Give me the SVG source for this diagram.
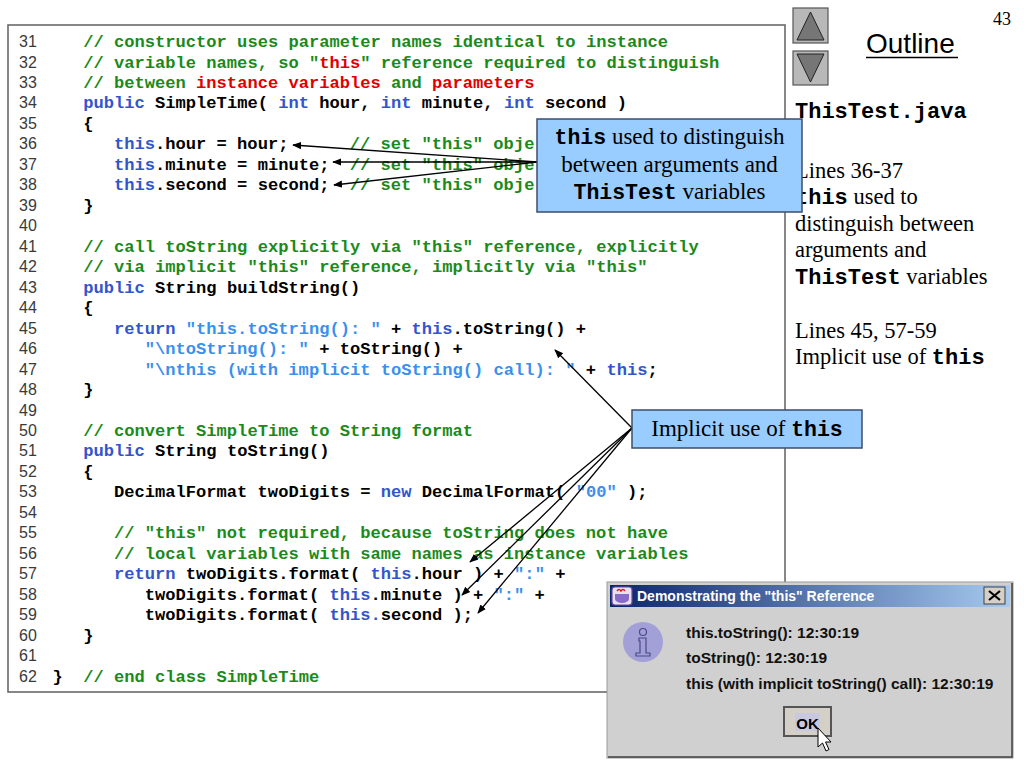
<svg xmlns="http://www.w3.org/2000/svg" width="1024" height="768" viewBox="0 0 1024 768">
<style>
.ln{font-family:"Liberation Sans",Arial,sans-serif;font-size:16px;fill:#3a3a3a}
.code{font-family:"Liberation Mono","Courier New",monospace;font-size:17.1px;font-weight:bold;white-space:pre;fill:#000}
.c{fill:#1a8a1a}.k{fill:#3355cc}.s{fill:#3a90ee}.r{fill:#e00000}
.tm{font-family:"Liberation Serif","Times New Roman",serif;font-size:23px;fill:#000;white-space:pre}
.m{font-family:"Liberation Mono","Courier New",monospace;font-weight:bold;font-size:21.5px}
.side{font-family:"Liberation Serif","Times New Roman",serif;font-size:22.5px;fill:#000;white-space:pre}
.sm{font-family:"Liberation Mono","Courier New",monospace;font-weight:bold;font-size:22px}
.callout{fill:#99ccff;stroke:#3c4e6e;stroke-width:1.5}
.conn{stroke:#000;stroke-width:1.3;fill:none;marker-end:url(#ah)}
.dlg{font-family:"Liberation Sans",Arial,sans-serif;font-weight:bold;font-size:15.5px;fill:#111}
.btn{fill:#b8b8b8;stroke:#555;stroke-width:1.2}
.tri{fill:#767676;stroke:#222;stroke-width:1}
</style>
<defs>
<marker id="ah" viewBox="0 0 10 10" refX="9" refY="5" markerWidth="9" markerHeight="9" markerUnits="userSpaceOnUse" orient="auto">
<path d="M0,1 L10,5 L0,9 Z" fill="#000"/>
</marker>
<linearGradient id="tb" x1="0" y1="0" x2="1" y2="0">
<stop offset="0" stop-color="#0a246a"/>
<stop offset="1" stop-color="#a6caf0"/>
</linearGradient>
</defs>
<rect width="1024" height="768" fill="#fff"/>

<g id="codebox">
<rect x="8" y="25" width="777" height="667" fill="#fff" stroke="#6a6a6a" stroke-width="1.6"/>
<g class="ln">
<text x="19" y="47">31</text><text x="19" y="67.5">32</text><text x="19" y="87.9">33</text><text x="19" y="108.4">34</text>
<text x="19" y="128.9">35</text><text x="19" y="149.4">36</text><text x="19" y="169.8">37</text><text x="19" y="190.3">38</text>
<text x="19" y="210.8">39</text><text x="19" y="231.2">40</text><text x="19" y="251.7">41</text><text x="19" y="272.2">42</text>
<text x="19" y="292.6">43</text><text x="19" y="313.1">44</text><text x="19" y="333.6">45</text><text x="19" y="354.1">46</text>
<text x="19" y="374.5">47</text><text x="19" y="395">48</text><text x="19" y="415.5">49</text><text x="19" y="435.9">50</text>
<text x="19" y="456.4">51</text><text x="19" y="476.9">52</text><text x="19" y="497.3">53</text><text x="19" y="517.8">54</text>
<text x="19" y="538.3">55</text><text x="19" y="558.7">56</text><text x="19" y="579.2">57</text><text x="19" y="599.7">58</text>
<text x="19" y="620.1">59</text><text x="19" y="640.6">60</text><text x="19" y="661.1">61</text><text x="19" y="681.6">62</text>
</g>
<g class="code">
<text x="83.25" y="47"><tspan class="c">// constructor uses parameter names identical to instance</tspan></text>
<text x="83.25" y="67.5"><tspan class="c">// variable names, so "</tspan><tspan class="r">this</tspan><tspan class="c">" reference required to distinguish</tspan></text>
<text x="83.25" y="87.9"><tspan class="c">// between </tspan><tspan class="r">instance variables</tspan><tspan class="c"> and </tspan><tspan class="r">parameters</tspan></text>
<text x="83.25" y="108.4"><tspan class="k">public</tspan> SimpleTime( <tspan class="k">int</tspan> hour, <tspan class="k">int</tspan> minute, <tspan class="k">int</tspan> second )</text>
<text x="83.25" y="128.9">{</text>
<text x="114" y="149.4"><tspan class="k">this</tspan>.hour = hour;<tspan class="c" x="349.75">// set "this" obje</tspan></text>
<text x="114" y="169.8"><tspan class="k">this</tspan>.minute = minute;<tspan class="c" x="349.75">// set "this" obje</tspan></text>
<text x="114" y="190.3"><tspan class="k">this</tspan>.second = second;<tspan class="c" x="349.75">// set "this" obje</tspan></text>
<text x="83.25" y="210.8">}</text>
<text x="83.25" y="251.7"><tspan class="c">// call toString explicitly via "this" reference, explicitly</tspan></text>
<text x="83.25" y="272.2"><tspan class="c">// via implicit "this" reference, implicitly via "this"</tspan></text>
<text x="83.25" y="292.6"><tspan class="k">public</tspan> String buildString()</text>
<text x="83.25" y="313.1">{</text>
<text x="114" y="333.6"><tspan class="k">return</tspan> <tspan class="s">"this.toString(): "</tspan> + <tspan class="k">this</tspan>.toString() +</text>
<text x="144.75" y="354.1"><tspan class="s">"\ntoString(): "</tspan> + toString() +</text>
<text x="144.75" y="374.5"><tspan class="s">"\nthis (with implicit toString() call): "</tspan> + <tspan class="k">this</tspan>;</text>
<text x="83.25" y="395">}</text>
<text x="83.25" y="435.9"><tspan class="c">// convert SimpleTime to String format</tspan></text>
<text x="83.25" y="456.4"><tspan class="k">public</tspan> String toString()</text>
<text x="83.25" y="476.9">{</text>
<text x="114" y="497.3">DecimalFormat twoDigits = <tspan class="k">new</tspan> DecimalFormat( <tspan class="s">"00"</tspan> );</text>
<text x="114" y="538.3"><tspan class="c">// "this" not required, because toString does not have</tspan></text>
<text x="114" y="558.7"><tspan class="c">// local variables with same names as instance variables</tspan></text>
<text x="114" y="579.2"><tspan class="k">return</tspan> twoDigits.format( <tspan class="k">this</tspan>.hour ) + <tspan class="s">":"</tspan> +</text>
<text x="144.75" y="599.7">twoDigits.format( <tspan class="k">this</tspan>.minute ) + <tspan class="s">":"</tspan> +</text>
<text x="144.75" y="620.1">twoDigits.format( <tspan class="k">this.</tspan>second );</text>
<text x="83.25" y="640.6">}</text>
<text x="52.5" y="681.6">}<tspan class="c" x="83.25">// end class SimpleTime</tspan></text>
</g>
</g>

<g id="sidebar">
<text x="993" y="25" style="font-family:'Liberation Serif','Times New Roman',serif;font-size:18px;fill:#000">43</text>
<g id="nav-up"><rect class="btn" x="793" y="8" width="35" height="35"/><polygon class="tri" points="797,40 824,40 810.5,12"/></g>
<g id="nav-down"><rect class="btn" x="793" y="51" width="35" height="34"/><polygon class="tri" points="797,54 824,54 810.5,82"/></g>
<g id="outline-title">
<text x="866" y="53" style="font-family:'Liberation Sans',Arial,sans-serif;font-size:28px;fill:#000">Outline</text>
<line x1="866" y1="57.5" x2="958" y2="57.5" stroke="#000" stroke-width="1.6"/>
</g>
<text class="sm" x="795" y="118">ThisTest.java</text>
<g class="side">
<text x="795" y="178">Lines 36-37</text>
<text x="795" y="204"><tspan class="sm">this</tspan> used to</text>
<text x="795" y="230.5">distinguish between</text>
<text x="795" y="257">arguments and</text>
<text x="795" y="283.5"><tspan class="sm">ThisTest</tspan> variables</text>
<text x="795" y="338">Lines 45, 57-59</text>
<text x="795" y="364">Implicit use of <tspan class="sm">this</tspan></text>
</g>
</g>

<g id="connectors">
<line class="conn" x1="537" y1="162" x2="293" y2="145"/>
<line class="conn" x1="537" y1="162" x2="333" y2="162"/>
<line class="conn" x1="537" y1="162" x2="334" y2="185"/>
<line class="conn" x1="632" y1="428" x2="555" y2="350"/>
<line class="conn" x1="632" y1="428" x2="470" y2="562"/>
<line class="conn" x1="632" y1="428" x2="462" y2="595"/>
<line class="conn" x1="632" y1="428" x2="478" y2="613"/>
</g>

<g id="callout-distinguish">
<rect class="callout" x="537" y="119" width="265" height="93"/>
<text class="tm" x="669.5" y="144" text-anchor="middle"><tspan class="m">this</tspan> used to distinguish</text>
<text class="tm" x="669.5" y="172" text-anchor="middle">between arguments and</text>
<text class="tm" x="669.5" y="199" text-anchor="middle"><tspan class="m">ThisTest</tspan> variables</text>
</g>

<g id="callout-implicit">
<rect class="callout" x="632" y="410" width="230" height="38"/>
<text class="tm" x="747" y="436" text-anchor="middle">Implicit use of <tspan class="m">this</tspan></text>
</g>

<g id="dialog">
<rect x="607" y="582" width="406" height="176" fill="#d0d0d0" stroke="#9a9a9a" stroke-width="1"/>
<polyline points="608,757 1012,757 1012,583" fill="none" stroke="#404040" stroke-width="1.5"/>
<rect x="610" y="585" width="400" height="22" fill="url(#tb)"/>
<g id="title-icon">
<rect x="612" y="587" width="20" height="18" rx="3" fill="#e8e0f0" stroke="#6a4aa0" stroke-width="1.2"/>
<path d="M615,594 h14 v5 a7,4 0 0 1 -14,0 z" fill="#8a6ac8"/>
<path d="M617,591 q2,-3 4,0 q2,-3 4,0" fill="none" stroke="#d02020" stroke-width="1.5"/>
</g>
<text x="637" y="601" style="font-family:'Liberation Sans',Arial,sans-serif;font-weight:bold;font-size:14px;fill:#fff">Demonstrating the "this" Reference</text>
<g id="close-btn">
<rect x="984" y="587" width="21" height="17" fill="#d4d0c8" stroke="#404040" stroke-width="1"/>
<path d="M989,591 L1000,600 M1000,591 L989,600" stroke="#000" stroke-width="2.2"/>
</g>
<g id="info-icon">
<circle cx="643" cy="642" r="20" fill="#a3a0d8"/>
<circle cx="643" cy="632" r="3.5" fill="none" stroke="#4a4a8a" stroke-width="1.2"/>
<path d="M639,638 h7 v15 h4 v3 h-14 v-3 h4 v-12 h-1 z" fill="none" stroke="#4a4a8a" stroke-width="1.2"/>
</g>
<text class="dlg" x="686" y="638">this.toString(): 12:30:19</text>
<text class="dlg" x="686" y="663">toString(): 12:30:19</text>
<text class="dlg" x="686" y="689">this (with implicit toString() call): 12:30:19</text>
<g id="ok-btn">
<rect x="784" y="707" width="47" height="29" fill="#d4d0c8" stroke="#555" stroke-width="2"/>
<rect x="795" y="713" width="25" height="18" fill="#c8c8e0"/>
<text x="807.5" y="729" text-anchor="middle" style="font-family:'Liberation Sans',Arial,sans-serif;font-weight:bold;font-size:15px;fill:#000">OK</text>
</g>
<polygon points="818,728 818,747 822.5,743 826,751 829,749.5 825.5,742 831,742" fill="#fff" stroke="#000" stroke-width="1"/>
</g>
</svg>
